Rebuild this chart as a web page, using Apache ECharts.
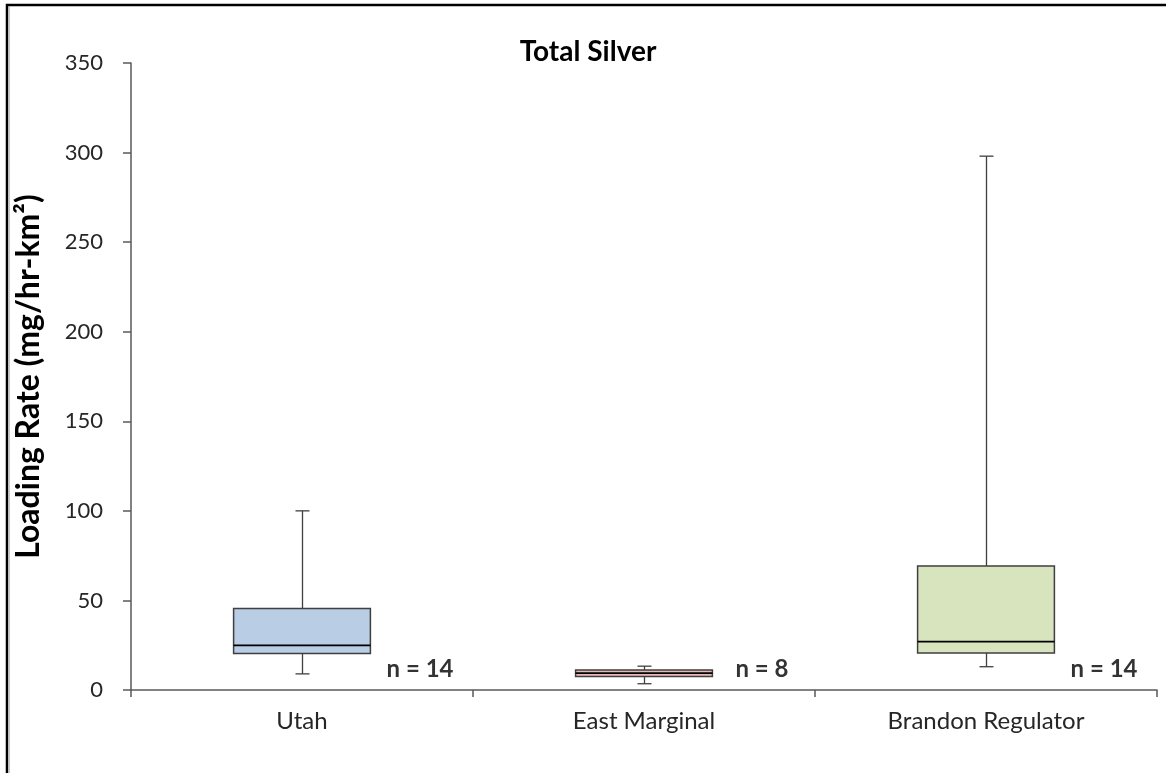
<!DOCTYPE html>
<html>
<head>
<meta charset="utf-8">
<script src="https://cdn.jsdelivr.net/npm/echarts@6/dist/echarts.min.js"></script>
<style>
  html, body { margin: 0; padding: 0; background: #fff; }
  #chart { width: 1166px; height: 773px; }
</style>
</head>
<body>
<div id="chart"></div>
<script>
// Sites along the x axis
const categories = ['Utah', 'East Marginal', 'Brandon Regulator'];
// Five-number summaries per site: [min, Q1, median, Q3, max] in mg/hr-km²
const utahStats = [9, 20.4, 24.9, 45.5, 100];
const eastMarginalStats = [3.5, 7.5, 9.4, 11.1, 13.3];
const brandonStats = [13, 20.6, 27, 69.2, 298];
// Sample counts shown next to each box
const sampleCounts = [14, 8, 14];
// Y-axis ticks
const yMin = 0, yMax = 350, yStep = 50;

const boxStats = [utahStats, eastMarginalStats, brandonStats];
const boxFills = ['#B9CDE5', '#E6B9B8', '#D7E4BD'];

const FONT = 'Lato, "Open Sans", sans-serif';

const chart = echarts.init(document.getElementById('chart'), null, { renderer: 'canvas' });

function renderBox(params, api) {
  const idx = api.value(0);
  const cx = api.coord([idx, 0])[0];
  const band = api.size([1, 0])[0];
  const half = band * 0.2;
  const capHalf = 7;
  const y = k => api.coord([idx, api.value(k)])[1];
  const yLow = y(1), yQ1 = y(2), yMed = y(3), yQ3 = y(4), yHigh = y(5);
  const px = Math.round(cx) + 0.5;
  const lineStyle = { stroke: '#3F3F3F', lineWidth: 1.3, fill: null };
  return {
    type: 'group',
    children: [
      { type: 'line', shape: { x1: px, y1: yQ3, x2: px, y2: yHigh }, style: lineStyle },
      { type: 'line', shape: { x1: px - capHalf, y1: yHigh, x2: px + capHalf, y2: yHigh }, style: lineStyle },
      { type: 'line', shape: { x1: px, y1: yQ1, x2: px, y2: yLow }, style: lineStyle },
      { type: 'line', shape: { x1: px - capHalf, y1: yLow, x2: px + capHalf, y2: yLow }, style: lineStyle },
      {
        type: 'rect',
        shape: { x: cx - half, y: yQ3, width: half * 2, height: yQ1 - yQ3 },
        style: { fill: boxFills[idx], stroke: '#3F3F3F', lineWidth: 1.5 }
      },
      { type: 'line', shape: { x1: cx - half, y1: yMed, x2: cx + half, y2: yMed }, style: { stroke: '#000', lineWidth: 1.8 } }
    ]
  };
}

const option = {
  backgroundColor: '#fff',
  animation: false,
  title: {
    text: 'Total Silver',
    left: 583,
    top: 33,
    textAlign: 'center',
    textStyle: { fontFamily: FONT, fontWeight: 'bold', fontSize: 28, color: '#000' }
  },
  grid: { left: 131, right: 9, top: 63, bottom: 83, containLabel: false },
  xAxis: {
    type: 'category',
    data: categories,
    axisLine: { lineStyle: { color: '#595959', width: 1.5 } },
    axisTick: { show: true, length: 7, lineStyle: { color: '#595959', width: 1.5 } },
    axisLabel: { fontFamily: FONT, fontSize: 24, color: '#262626', margin: 19 },
    splitLine: { show: false }
  },
  yAxis: {
    type: 'value',
    min: yMin, max: yMax, interval: yStep,
    name: 'Loading Rate (mg/hr-km²)',
    nameLocation: 'middle',
    nameRotate: 90,
    nameGap: 86,
    nameTextStyle: { fontFamily: FONT, fontWeight: 'bold', fontSize: 32, color: '#000' },
    axisLine: { show: true, lineStyle: { color: '#595959', width: 1.5 } },
    axisTick: { show: true, length: 8, lineStyle: { color: '#595959', width: 1.5 } },
    axisLabel: { fontFamily: FONT, fontSize: 22, color: '#262626', margin: 28 },
    splitLine: { show: false }
  },
  series: [
    {
      type: 'custom',
      renderItem: renderBox,
      encode: { x: 0, y: [1, 2, 3, 4, 5] },
      data: boxStats.map((s, i) => [i].concat(s)),
      z: 2
    },
    {
      type: 'scatter',
      symbolSize: 1,
      itemStyle: { color: 'transparent' },
      data: sampleCounts.map((n, i) => [i, 0]),
      label: {
        show: true,
        position: 'inside',
        offset: [118, -21],
        formatter: p => 'n = ' + sampleCounts[p.dataIndex],
        fontFamily: FONT, fontWeight: 'bold', fontSize: 24, color: '#000'
      },
      silent: true,
      z: 3
    }
  ],
  graphic: [
    {
      type: 'rect',
      shape: { x: 7, y: 5, width: 1300, height: 900 },
      style: { fill: null, stroke: '#000', lineWidth: 2.5 },
      silent: true
    },
    {
      type: 'line',
      shape: { x1: 9.5, y1: 7, x2: 9.5, y2: 773 },
      style: { stroke: '#C8C8C8', lineWidth: 1 },
      silent: true
    }
  ]
};

chart.setOption(option);
</script>
</body>
</html>
